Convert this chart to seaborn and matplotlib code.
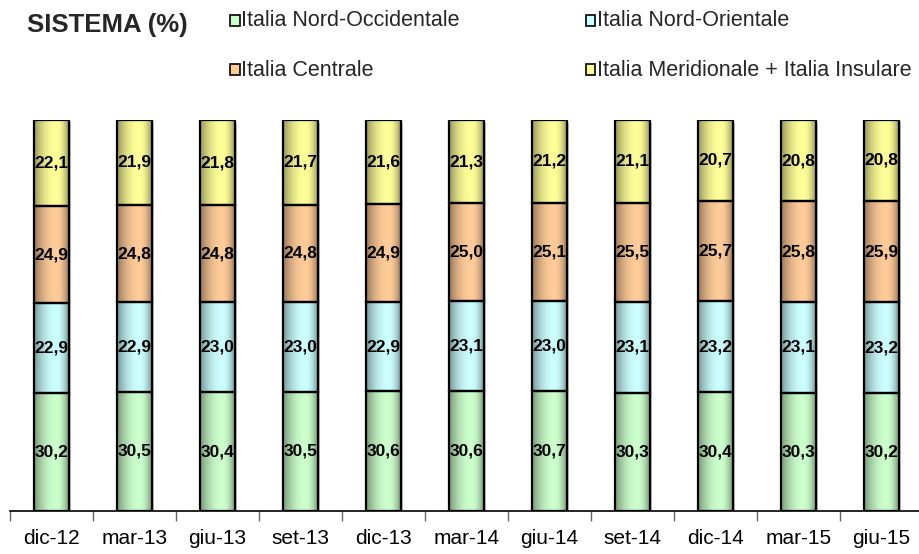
import numpy as np
import pandas as pd
import matplotlib
matplotlib.use("Agg")
import matplotlib.pyplot as plt
import matplotlib.patheffects as pe
from matplotlib.patches import Rectangle
from matplotlib import font_manager
import seaborn as sns

periods = ["dic-12", "mar-13", "giu-13", "set-13", "dic-13", "mar-14",
           "giu-14", "set-14", "dic-14", "mar-15", "giu-15"]
nord_occidentale = [30.2, 30.5, 30.4, 30.5, 30.6, 30.6, 30.7, 30.3, 30.4, 30.3, 30.2]
nord_orientale = [22.9, 22.9, 23.0, 23.0, 22.9, 23.1, 23.0, 23.1, 23.2, 23.1, 23.2]
centrale = [24.9, 24.8, 24.8, 24.8, 24.9, 25.0, 25.1, 25.5, 25.7, 25.8, 25.9]
meridionale_insulare = [22.1, 21.9, 21.8, 21.7, 21.6, 21.3, 21.2, 21.1, 20.7, 20.8, 20.8]

series_names = ["Italia Nord-Occidentale", "Italia Nord-Orientale",
                "Italia Centrale", "Italia Meridionale + Italia Insulare"]
series_values = [nord_occidentale, nord_orientale, centrale, meridionale_insulare]
series_colors = ["#CCFFCC", "#CCFFFF", "#FFCC99", "#FFFF99"]

sns.set_theme(style="white")
plt.rcParams["font.family"] = ["Liberation Sans", "DejaVu Sans"]

installed = {f.name for f in font_manager.fontManager.ttflist}
if "Liberation Sans Narrow" in installed:
    label_font = dict(family=["Liberation Sans Narrow", "Liberation Sans"], fontsize=14.5)
else:
    label_font = dict(family=["Liberation Sans", "DejaVu Sans"], fontsize=12.5)

W, H = 920, 554
fig = plt.figure(figsize=(W / 100, H / 100), dpi=100)
ax = fig.add_axes([10 / W, 43 / H, 913 / W, 391 / H])

# horizontal shading profile: darker towards both edges of each bar
t = np.linspace(0, 1, 96)
peak = 0.64
shade = np.where(t < peak,
                 1 - 0.42 * ((t - peak) / peak) ** 2,
                 1 - 0.42 * ((t - peak) / (1 - peak)) ** 2)

bar_width = 0.41
bottoms = np.zeros(len(periods))
for name, vals, col in zip(series_names, series_values, series_colors):
    df = pd.DataFrame({"periodo": periods, "quota": vals})
    n_before = len(ax.patches)
    sns.barplot(data=df, x="periodo", y="quota", color=col, width=bar_width,
                saturation=1, linewidth=0, ax=ax, zorder=2)
    new_patches = ax.patches[n_before:]
    base = np.array(matplotlib.colors.to_rgb(col))
    grad = (base[None, None, :] * shade[None, :, None]).clip(0, 1)
    for i, p in enumerate(new_patches):
        p.set_y(bottoms[i])
        p.set_path_effects([pe.SimplePatchShadow(offset=(2, -2), shadow_rgbFace="0.5",
                                                 alpha=0.5), pe.Normal()])
        x0, w, h = p.get_x(), p.get_width(), p.get_height()
        im = ax.imshow(grad, extent=(x0, x0 + w, bottoms[i], bottoms[i] + h),
                       aspect="auto", interpolation="bilinear", zorder=2.2)
        im.set_clip_path(p)
        ax.add_patch(Rectangle((x0, bottoms[i]), w, h, fill=False,
                               edgecolor="black", linewidth=1.6, zorder=3))
        ax.text(x0 + w / 2, bottoms[i] + h / 2, f"{vals[i]:.1f}".replace(".", ","),
                ha="center", va="center", fontweight="bold",
                color="black", zorder=4, **label_font)
    bottoms = bottoms + np.array(vals)

ax.set_xlim(-0.5, len(periods) - 0.5)
ax.set_ylim(0, 100)
ax.set_xlabel("")
ax.set_ylabel("")
ax.set_yticks([])
for s in ["left", "top", "right"]:
    ax.spines[s].set_visible(False)
ax.spines["bottom"].set_color("black")
ax.spines["bottom"].set_linewidth(1.2)
ax.set_xticks(range(len(periods)))
ax.set_xticklabels(periods, fontsize=15)
ax.set_xticks(np.arange(-0.5, len(periods), 1.0), minor=True)
ax.tick_params(axis="x", which="major", length=0, pad=13, colors="black")
ax.tick_params(axis="x", which="minor", length=7, width=1, color="0.4",
               direction="out", bottom=True)
ax.set_facecolor("white")

# title and legend
fig.text(27 / W, 1 - 25 / H, "SISTEMA (%)", fontsize=18.5, fontweight="bold",
         ha="left", va="center")
legend_pos = [(230, 20), (586, 20), (230, 70), (586, 70)]
for (lx, ly), name, col in zip(legend_pos, series_names, series_colors):
    fig.patches.append(Rectangle((lx / W, 1 - (ly + 5.5) / H), 9.5 / W, 11 / H,
                                 transform=fig.transFigure, facecolor=col,
                                 edgecolor="black", linewidth=1.2))
    fig.text((lx + 11) / W, 1 - ly / H, name, fontsize=15.5, ha="left", va="center")

fig.savefig("out.png", dpi=100, facecolor="white")
